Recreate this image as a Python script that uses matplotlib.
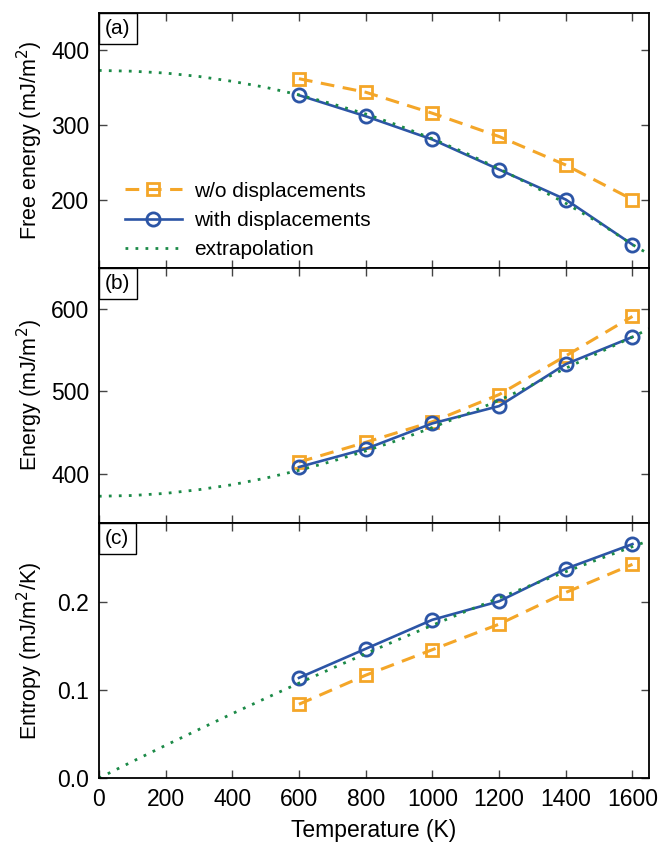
import numpy as np
import matplotlib.pyplot as plt
from matplotlib.offsetbox import AnchoredText
from matplotlib.ticker import FormatStrFormatter

plt.rcParams['font.family'] = ['Liberation Sans', 'DejaVu Sans']

# measured points
T = [600, 800, 1000, 1200, 1400, 1600]
F_wo = [362, 344, 316, 285, 247, 201]
F_with = [340, 312, 281, 241, 201, 141]
E_wo = [414, 438, 463, 496, 543, 591]
E_with = [408, 430, 461, 482, 533, 566]
S_wo = [0.084, 0.117, 0.146, 0.175, 0.211, 0.243]
S_with = [0.114, 0.147, 0.180, 0.201, 0.238, 0.266]

# extrapolation curve
T_ext = [0, 100, 200, 300, 400, 500, 600, 700, 800, 900, 1000, 1100, 1200,
         1300, 1400, 1500, 1600, 1650]
F_ext = [373, 372, 369.5, 365, 358.5, 350.5, 340.5, 328.5, 315, 299.5, 282,
         263, 242, 219.5, 196, 170, 141, 128]
E_ext = [372.5, 373.4, 376, 380.5, 386.5, 394.5, 404, 415, 427.5, 441, 456,
         472, 489, 508, 528, 547, 566, 576]
S_ext = [0, 0.0188, 0.0373, 0.0554, 0.0733, 0.0908, 0.108, 0.1249, 0.1415,
         0.1578, 0.1738, 0.1895, 0.2048, 0.2199, 0.2346, 0.249, 0.2631, 0.27]

orange = '#F4A628'
blue = '#2C55A6'
green = '#1B8A47'

fig, axes = plt.subplots(3, 1, figsize=(6.59, 8.44), dpi=100, sharex=True)
fig.subplots_adjust(left=0.150, right=0.985, top=0.985, bottom=0.078, hspace=0)

panels = [
    (F_wo, F_with, F_ext, 'Free energy (mJ/m$^2$)', (110, 450), [200, 300, 400], '(a)'),
    (E_wo, E_with, E_ext, 'Energy (mJ/m$^2$)', (340, 650), [400, 500, 600], '(b)'),
    (S_wo, S_with, S_ext, 'Entropy (mJ/m$^2$/K)', (0, 0.29), [0.0, 0.1, 0.2], '(c)'),
]

tfs = 16.5
lfs = 15.5
for ax, (wo, wi, ext, ylab, ylim, yt, tag) in zip(axes, panels):
    ax.plot(T, wo, color=orange, lw=2.2, dashes=(4.5, 2.8), marker='s',
            ms=9, mew=2.0, mfc='none', label='w/o displacements')
    ax.plot(T, wi, color=blue, lw=1.9, marker='o', ms=9.5, mew=2.0,
            mfc='none', label='with displacements')
    ax.plot(T_ext, ext, color=green, lw=2.0, dashes=(1, 2.6),
            label='extrapolation')
    ax.set_xlim(0, 1650)
    ax.set_ylim(*ylim)
    ax.set_yticks(yt)
    ax.set_ylabel(ylab, fontsize=lfs)
    ax.tick_params(direction='in', top=True, right=True, length=6,
                   width=1.0, color='#444444', labelsize=tfs, pad=7)
    for sp in ax.spines.values():
        sp.set_linewidth(1.3)
    at = AnchoredText(tag, loc='upper left', borderpad=0, pad=0.3,
                      prop=dict(size=15), frameon=True)
    at.patch.set_boxstyle('square,pad=0')
    at.patch.set_linewidth(1.0)
    ax.add_artist(at)

axes[2].yaxis.set_major_formatter(FormatStrFormatter('%.1f'))
axes[2].set_xticks(range(0, 1601, 200))
axes[2].set_xlabel('Temperature (K)', fontsize=tfs, labelpad=6)

for ax in axes:
    ax.yaxis.set_label_coords(-0.098, 0.5)

axes[0].legend(loc='lower left', bbox_to_anchor=(0.033, 0.0), frameon=False,
               fontsize=15, handlelength=2.7, handletextpad=0.6,
               labelspacing=0.5, borderaxespad=0.0)

fig.savefig('out.png', dpi=100)
